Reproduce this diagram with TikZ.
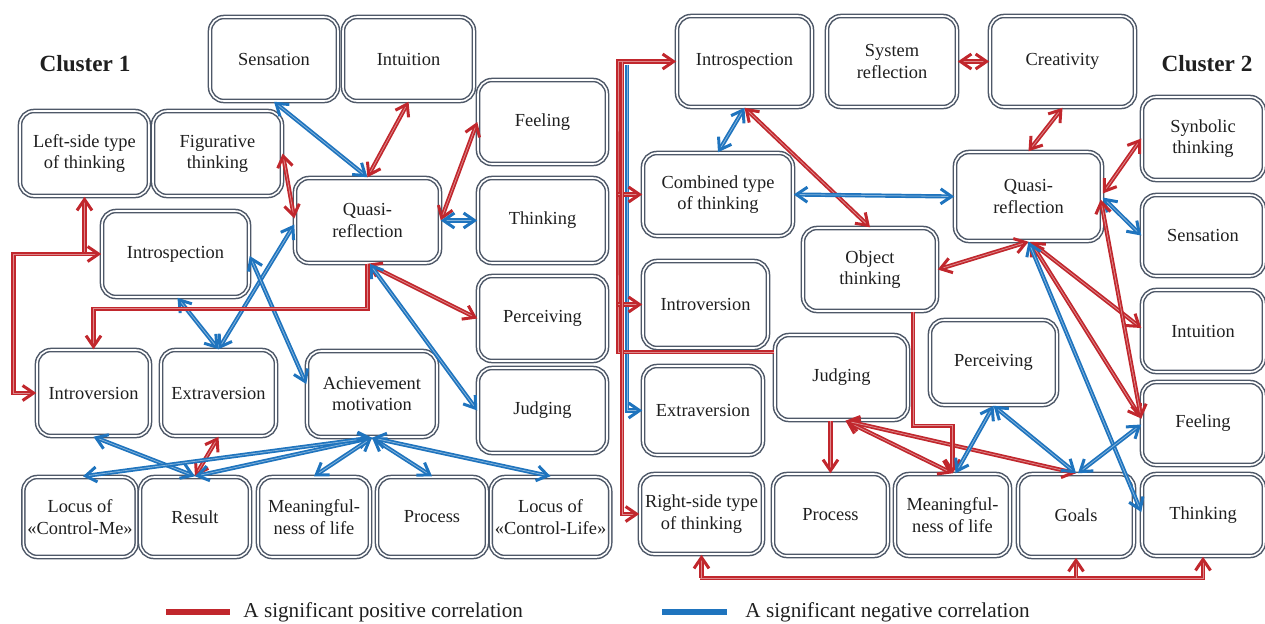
\documentclass[tikz,border=0pt]{standalone}
\usepackage{fontspec}
\setmainfont{Liberation Serif}
\usetikzlibrary{arrows.meta,calc}
\definecolor{posred}{HTML}{C1272D}
\definecolor{negblue}{HTML}{1F74BE}
\definecolor{boxgray}{HTML}{4E5868}
\tikzset{
  box/.style={draw=boxgray, double=white, line width=0.75pt, double distance=0.8pt,
    rounded corners=7pt, align=center, inner sep=2pt, text=black!88,
    font=\fontsize{9.2}{10.6}\selectfont},
  poscor/.style={draw=posred, double=posred!55!white, line width=0.85pt, double distance=0.4pt},
  negcor/.style={draw=negblue, double=negblue!55!white, line width=0.85pt, double distance=0.4pt},
  clabel/.style={font=\fontsize{11.6}{13}\selectfont\bfseries, text=black!88},
  legtext/.style={font=\fontsize{10.6}{12}\selectfont, text=black!88, anchor=west, inner sep=0pt},
}
% box from corner (x1,y1) to corner (x2,y2), in pixels
\newcommand{\cbox}[6]{\node[box, minimum width={(#4-#2)*0.5pt}, minimum height={(#5-#3)*0.5pt}]
  (#1) at ({(#2+#4)/2},{(#3+#5)/2}) {#6};}
\begin{document}
\begin{tikzpicture}[x=0.5pt,y=-0.5pt,>={Straight Barb[length=5.5pt,width=7.5pt,line width=1.5pt]}]
\useasboundingbox (0,0) rectangle (1265,623);
% Cluster 1
\node[clabel] (cl1) at (85,64) {Cluster 1};
\cbox{sen1}{210}{17}{338}{101}{Sensation}
\cbox{int1}{343}{17}{474}{101}{Intuition}
\cbox{lst1}{20}{111}{149}{196}{Left-side type\\of thinking}
\cbox{fig1}{153}{111}{282}{196}{Figurative\\thinking}
\cbox{qr1}{295}{178}{440}{263}{Quasi-\\reflection}
\cbox{fee1}{478}{80}{607}{164}{Feeling}
\cbox{thi1}{478}{178}{607}{263}{Thinking}
\cbox{isp1}{102}{211}{249}{297}{Introspection}
\cbox{per1}{478}{276}{607}{361}{Perceiving}
\cbox{ivr1}{37}{350}{150}{436}{Introversion}
\cbox{evr1}{161}{350}{276}{436}{Extraversion}
\cbox{ach1}{307}{351}{437}{437}{Achievement\\motivation}
\cbox{jud1}{478}{368}{607}{453}{Judging}
\cbox{lcm1}{24}{477}{136}{557}{Locus of\\«Control-Me»}
\cbox{res1}{140}{477}{250}{557}{Result}
\cbox{mea1}{258}{477}{370}{557}{Meaningful-\\ness of life}
\cbox{pro1}{377}{477}{487}{557}{Process}
\cbox{lcl1}{492}{477}{609}{557}{Locus of\\«Control-Life»}

\draw[negcor,<->] (sen1.south) -- (qr1.north);
\draw[poscor,<->] (int1.south) -- (qr1.north);
\draw[poscor,<->] (fig1.east) -- ($(qr1.west)+(0,-2)$);
\draw[poscor,<->] (qr1.east) -- (fee1.west);
\draw[negcor,<->] (qr1.east) -- (thi1.west);
\draw[poscor,<->] (qr1.south) -- (per1.west);
\draw[negcor,<->] ($(qr1.south)+(2,0)$) -- (jud1.west);
\draw[negcor,<->] ($(qr1.west)+(0,4)$) -- (evr1.north);
\draw[negcor,<->] ($(isp1.south)+(2,0)$) -- (evr1.north);
\draw[negcor,<->] ($(isp1.east)+(0,2)$) -- ($(ach1.west)+(0,-10)$);
\draw[poscor,->] (qr1.south) -- ++(0,45) -| (ivr1.north);
\draw[poscor,<->] (lst1.south) |- (isp1.west);
\draw[poscor,->] (lst1.south |- isp1.west) -- ++(-71,0) |- (ivr1.west);
\draw[negcor,<->] (ivr1.south) -- (res1.north);
\draw[poscor,<->] (evr1.south) -- (res1.north);
\draw[negcor,<->] (ach1.south) -- (res1.north);
\draw[negcor,<->] (ach1.south) -- ($(lcm1.north)+(3,0)$);
\draw[negcor,<->] (ach1.south) -- (mea1.north);
\draw[negcor,<->] (ach1.south) -- (pro1.north);
\draw[negcor,<->] (ach1.south) -- (lcl1.north);

% Cluster 2
\node[clabel] (cl2) at (1207,64) {Cluster 2};
\cbox{isp2}{677}{16}{812}{107}{Introspection}
\cbox{sys2}{827}{16}{957}{107}{System\\reflection}
\cbox{cre2}{990}{16}{1135}{107}{Creativity}
\cbox{com2}{643}{153}{793}{236}{Combined type\\of thinking}
\cbox{qr2}{955}{152}{1102}{241}{Quasi-\\reflection}
\cbox{syn2}{1142}{97}{1264}{180}{Synbolic\\thinking}
\cbox{sen2}{1142}{195}{1264}{276}{Sensation}
\cbox{obj2}{803}{228}{937}{311}{Object\\thinking}
\cbox{ivr2}{643}{261}{768}{348}{Introversion}
\cbox{int2}{1142}{290}{1264}{372}{Intuition}
\cbox{per2}{930}{320}{1057}{405}{Perceiving}
\cbox{jud2}{775}{335}{908}{420}{Judging}
\cbox{evr2}{643}{366}{763}{455}{Extraversion}
\cbox{fee2}{1142}{382}{1264}{465}{Feeling}
\cbox{rst2}{640}{474}{763}{554}{Right-side type\\of thinking}
\cbox{pro2}{773}{474}{888}{556}{Process}
\cbox{mea2}{895}{474}{1010}{556}{Meaningful-\\ness of life}
\cbox{goa2}{1018}{474}{1134}{557}{Goals}
\cbox{thi2}{1142}{474}{1264}{556}{Thinking}

\coordinate (c2a) at (618,200);
\coordinate (c2b) at (622,200);
\coordinate (c2c) at (627,200);
\coordinate (c2d) at (700,578);
\draw[negcor,->] ($(isp2.west -| c2c)+(0,3)$) |- (evr2.west);
\draw[poscor,->] ($(jud2.north west)+(0,18)$) -| (c2a) |- (isp2.west);
\draw[poscor,->] (com2.west -| c2a) -- (com2.west);
\draw[poscor,->] (ivr2.west -| c2a) -- (ivr2.west);
\draw[poscor,->] (isp2.west -| c2b) |- (rst2.west);

\draw[negcor,<->] (isp2.south) -- (com2.north);
\draw[poscor,<->] (isp2.south) -- (obj2.north);
\draw[negcor,<->] (com2.east) -- (qr2.west);
\draw[poscor,<->] (sys2.east) -- (cre2.west);
\draw[poscor,<->] (cre2.south) -- (qr2.north);
\draw[poscor,<->] ($(qr2.east)+(0,-3)$) -- (syn2.west);
\draw[negcor,<->] ($(qr2.east)+(0,1)$) -- (sen2.west);
\draw[poscor,<->] (qr2.south) -- (obj2.east);
\draw[poscor,<->] ($(qr2.south)+(2,0)$) -- ($(int2.west)+(0,-3)$);
\draw[poscor,<->] ($(qr2.south)+(2,0)$) -- ($(fee2.west)+(0,-5)$);
\draw[poscor,<->] ($(qr2.east)+(-2,3)$) -- ($(fee2.west)+(0,-5)$);
\draw[negcor,<->] (qr2.south) -- ($(thi2.west)+(0,-3)$);
\draw[poscor,<->] ($(jud2.south)+(4,0)$) -- (mea2.north);
\draw[poscor,<->] ($(jud2.south)+(4,0)$) -- (goa2.north);
\draw[poscor,->] (pro2.north |- jud2.south) -- (pro2.north);
\draw[poscor,->] ($(obj2.south)+(43,0)$) -- ++(0,114) -| (mea2.north);
\draw[negcor,<->] (per2.south) -- ($(mea2.north)+(3,0)$);
\draw[negcor,<->] (per2.south) -- (goa2.north);
\draw[negcor,<->] ($(goa2.north)+(2,0)$) -- ($(fee2.west)+(0,1)$);
\draw[poscor,<->] (rst2.south) |- (c2d) -| (thi2.south);
\draw[poscor,->] (goa2.south |- c2d) -- (goa2.south);

% legend
\draw[posred, line width=3pt] (166,612) -- (230,612) coordinate (lg1);
\node[legtext] (lgt1) at (243,612) {A significant positive correlation};
\draw[negblue, line width=3pt] (662,612) -- (727,612) coordinate (lg2);
\node[legtext] (lgt2) at (745,612) {A significant negative correlation};
\end{tikzpicture}
\end{document}
